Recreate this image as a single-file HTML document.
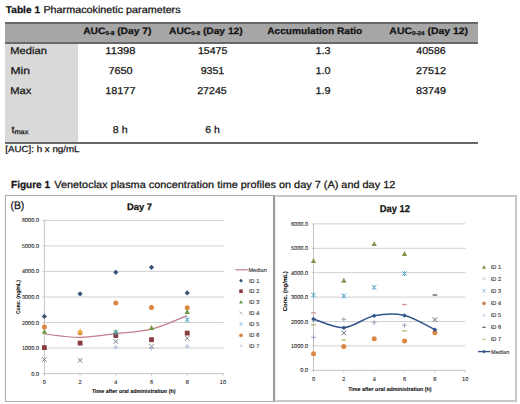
<!DOCTYPE html>
<html><head><meta charset="utf-8">
<style>
html,body{margin:0;padding:0;background:#fff;}
body{width:520px;height:404px;position:relative;overflow:hidden;font-family:"Liberation Sans",sans-serif;}
.hdr{position:absolute;left:5px;width:473px;top:22px;height:22px;background:#a6a6a6;border-top:2px solid #686868;border-bottom:2px solid #686868;box-sizing:border-box;}
.col1{position:absolute;left:5px;width:73px;top:44px;height:98px;background:#d9d9d9;}
.bot{position:absolute;left:5px;width:473px;top:142px;height:2px;background:#686868;}
.box1{position:absolute;left:5px;top:195px;width:270px;height:207px;border:1px solid #ababab;border-right:2px solid #9a9a9a;box-sizing:border-box;}
.box2{position:absolute;left:275px;top:195px;width:242px;height:207px;border:2px solid #c8c8c8;border-left:1px solid #f2f2f2;box-sizing:border-box;}
svg{position:absolute;left:0;top:0;}
</style></head><body>
<div class="hdr"></div>
<div class="col1"></div>
<div class="bot"></div>
<div class="box1"></div>
<div class="box2"></div>
<svg width="520" height="404" viewBox="0 0 520 404" font-family="Liberation Sans, sans-serif" text-rendering="geometricPrecision">
<g id="txt" fill="#141414" stroke="#141414" stroke-width="0.25">
<text id="Table1" x="5.84" y="12.9" font-size="9.8" font-weight="bold" textLength="34.19" lengthAdjust="spacingAndGlyphs">Table 1</text>
<text id="Pharm" x="43.41" y="12.9" font-size="10.0" textLength="137.20" lengthAdjust="spacingAndGlyphs">Pharmacokinetic parameters</text>
<text id="H1" x="83.18" y="33.7" font-size="9.3" font-weight="bold" textLength="68.24" lengthAdjust="spacingAndGlyphs">AUC<tspan font-size="5.6" dy="0.9">0-8</tspan><tspan dy="-0.9"> (Day 7)</tspan></text>
<text id="H2" x="169.02" y="33.7" font-size="9.3" font-weight="bold" textLength="73.67" lengthAdjust="spacingAndGlyphs">AUC<tspan font-size="5.6" dy="0.9">0-8</tspan><tspan dy="-0.9"> (Day 12)</tspan></text>
<text id="H3" x="267.32" y="33.7" font-size="9.3" font-weight="bold" textLength="94.95" lengthAdjust="spacingAndGlyphs">Accumulation Ratio</text>
<text id="H4" x="389.35" y="33.7" font-size="9.3" font-weight="bold" textLength="78.76" lengthAdjust="spacingAndGlyphs">AUC<tspan font-size="5.6" dy="0.9">0-24</tspan><tspan dy="-0.9"> (Day 12)</tspan></text>
<text id="Median" x="10.25" y="53.8" font-size="10.0" textLength="36.67" lengthAdjust="spacingAndGlyphs">Median</text>
<text id="Min" x="10.40" y="73.8" font-size="10.0" textLength="19.53" lengthAdjust="spacingAndGlyphs">Min</text>
<text id="Max" x="10.24" y="93.9" font-size="10.0" textLength="21.18" lengthAdjust="spacingAndGlyphs">Max</text>
<text id="tmax" x="11.47" y="133.0" font-size="10.0" textLength="16.84" lengthAdjust="spacingAndGlyphs">t<tspan font-size="6.6" dy="0.7">max</tspan></text>
<text id="n11" x="105.31" y="53.5" font-size="10.0" textLength="30.21" lengthAdjust="spacingAndGlyphs">11398</text>
<text id="n12" x="197.94" y="53.5" font-size="10.0" textLength="29.33" lengthAdjust="spacingAndGlyphs">15475</text>
<text id="n13" x="315.42" y="53.5" font-size="10.0" textLength="15.06" lengthAdjust="spacingAndGlyphs">1.3</text>
<text id="n14" x="416.34" y="53.5" font-size="10.0" textLength="29.29" lengthAdjust="spacingAndGlyphs">40586</text>
<text id="n21" x="108.56" y="73.7" font-size="10.0" textLength="24.09" lengthAdjust="spacingAndGlyphs">7650</text>
<text id="n22" x="200.70" y="73.7" font-size="10.0" textLength="23.57" lengthAdjust="spacingAndGlyphs">9351</text>
<text id="n23" x="315.42" y="73.7" font-size="10.0" textLength="15.06" lengthAdjust="spacingAndGlyphs">1.0</text>
<text id="n24" x="416.06" y="73.7" font-size="10.0" textLength="29.83" lengthAdjust="spacingAndGlyphs">27512</text>
<text id="n31" x="105.28" y="93.8" font-size="10.0" textLength="30.16" lengthAdjust="spacingAndGlyphs">18177</text>
<text id="n32" x="197.20" y="93.8" font-size="10.0" textLength="29.57" lengthAdjust="spacingAndGlyphs">27245</text>
<text id="n33" x="315.42" y="93.8" font-size="10.0" textLength="15.05" lengthAdjust="spacingAndGlyphs">1.9</text>
<text id="n34" x="416.06" y="93.8" font-size="10.0" textLength="29.93" lengthAdjust="spacingAndGlyphs">83749</text>
<text id="t1" x="112.85" y="132.8" font-size="10.0" textLength="14.79" lengthAdjust="spacingAndGlyphs">8 h</text>
<text id="t2" x="205.26" y="132.8" font-size="10.0" textLength="14.46" lengthAdjust="spacingAndGlyphs">6 h</text>
<text id="note" x="5.24" y="152.2" font-size="8.9" textLength="74.26" lengthAdjust="spacingAndGlyphs">[AUC]: h x ng/mL</text>
<text id="Fig1" x="11.06" y="188.0" font-size="10.2" font-weight="bold" textLength="38.93" lengthAdjust="spacingAndGlyphs">Figure 1</text>
<text id="Venet" x="54.25" y="188.0" font-size="10.2" textLength="341.00" lengthAdjust="spacingAndGlyphs">Venetoclax plasma concentration time profiles on day 7 (A) and day 12</text>
<text id="B" x="10.51" y="209.2" font-size="11.0" textLength="13.81" lengthAdjust="spacingAndGlyphs">(B)</text>
<text id="Day7" x="126.94" y="210.3" font-size="9.4" font-weight="bold" textLength="25.04" lengthAdjust="spacingAndGlyphs">Day 7</text>
<text id="Day12" x="379.66" y="212.3" font-size="10.0" font-weight="bold" textLength="30.28" lengthAdjust="spacingAndGlyphs">Day 12</text>
</g>
<g id="chart-left">
<text x="133.7" y="392.8" font-size="5.6" font-weight="bold" text-anchor="middle" fill="#111" stroke="#111" stroke-width="0.1" textLength="83.6" lengthAdjust="spacingAndGlyphs">Time after oral administration (h)</text>
<text transform="translate(19.6 297.1) rotate(-90)" font-size="5.6" font-weight="bold" text-anchor="middle" fill="#111" stroke="#111" stroke-width="0.1" textLength="34" lengthAdjust="spacingAndGlyphs">Conc. (ng/mL)</text>
<line x1="44.4" y1="348.0" x2="223.8" y2="348.0" stroke="#d0d0d0" stroke-width="1"/>
<line x1="44.4" y1="322.5" x2="223.8" y2="322.5" stroke="#d0d0d0" stroke-width="1"/>
<line x1="44.4" y1="297.0" x2="223.8" y2="297.0" stroke="#d0d0d0" stroke-width="1"/>
<line x1="44.4" y1="271.4" x2="223.8" y2="271.4" stroke="#d0d0d0" stroke-width="1"/>
<line x1="44.4" y1="245.9" x2="223.8" y2="245.9" stroke="#d0d0d0" stroke-width="1"/>
<line x1="44.4" y1="220.4" x2="223.8" y2="220.4" stroke="#d0d0d0" stroke-width="1"/>
<line x1="44.4" y1="220.4" x2="44.4" y2="373.6" stroke="#c4c4c4" stroke-width="1"/>
<line x1="44.4" y1="373.6" x2="223.8" y2="373.6" stroke="#c4c4c4" stroke-width="1"/>
<line x1="42.4" y1="373.6" x2="44.4" y2="373.6" stroke="#c4c4c4" stroke-width="1"/>
<line x1="42.4" y1="348.0" x2="44.4" y2="348.0" stroke="#c4c4c4" stroke-width="1"/>
<line x1="42.4" y1="322.5" x2="44.4" y2="322.5" stroke="#c4c4c4" stroke-width="1"/>
<line x1="42.4" y1="297.0" x2="44.4" y2="297.0" stroke="#c4c4c4" stroke-width="1"/>
<line x1="42.4" y1="271.4" x2="44.4" y2="271.4" stroke="#c4c4c4" stroke-width="1"/>
<line x1="42.4" y1="245.9" x2="44.4" y2="245.9" stroke="#c4c4c4" stroke-width="1"/>
<line x1="42.4" y1="220.4" x2="44.4" y2="220.4" stroke="#c4c4c4" stroke-width="1"/>
<line x1="44.4" y1="373.6" x2="44.4" y2="375.6" stroke="#c4c4c4" stroke-width="1"/>
<line x1="80.1" y1="373.6" x2="80.1" y2="375.6" stroke="#c4c4c4" stroke-width="1"/>
<line x1="115.8" y1="373.6" x2="115.8" y2="375.6" stroke="#c4c4c4" stroke-width="1"/>
<line x1="151.5" y1="373.6" x2="151.5" y2="375.6" stroke="#c4c4c4" stroke-width="1"/>
<line x1="187.2" y1="373.6" x2="187.2" y2="375.6" stroke="#c4c4c4" stroke-width="1"/>
<line x1="222.9" y1="373.6" x2="222.9" y2="375.6" stroke="#c4c4c4" stroke-width="1"/>
<g font-size="5.6" fill="#333" stroke="#333" stroke-width="0.12">
<text x="39.0" y="375.6" text-anchor="end">0.0</text>
<text x="39.0" y="350.0" text-anchor="end">1000.0</text>
<text x="39.0" y="324.5" text-anchor="end">2000.0</text>
<text x="39.0" y="299.0" text-anchor="end">3000.0</text>
<text x="39.0" y="273.4" text-anchor="end">4000.0</text>
<text x="39.0" y="247.9" text-anchor="end">5000.0</text>
<text x="39.0" y="222.4" text-anchor="end">6000.0</text>
<text x="44.4" y="383.6" text-anchor="middle">0</text>
<text x="80.1" y="383.6" text-anchor="middle">2</text>
<text x="115.8" y="383.6" text-anchor="middle">4</text>
<text x="151.5" y="383.6" text-anchor="middle">6</text>
<text x="187.2" y="383.6" text-anchor="middle">8</text>
<text x="222.9" y="383.6" text-anchor="middle">10</text>
</g>
<path d="M44.4 334.0 C50.3 334.6 68.2 337.4 80.1 337.3 C92.0 337.2 103.9 335.0 115.8 333.6 C127.7 332.2 139.6 332.2 151.5 329.2 C163.4 326.2 181.2 317.9 187.2 315.6" stroke="#c27c8a" stroke-width="1.2" fill="none"/>
<path d="M44.4 313.8L47.0 316.4L44.4 319.0L41.8 316.4Z" fill="#3b5278"/>
<path d="M80.1 291.2L82.7 293.8L80.1 296.4L77.5 293.8Z" fill="#3b5278"/>
<path d="M115.8 269.7L118.4 272.3L115.8 274.9L113.2 272.3Z" fill="#3b5278"/>
<path d="M151.5 264.7L154.1 267.3L151.5 269.9L148.9 267.3Z" fill="#3b5278"/>
<path d="M187.2 290.3L189.8 292.9L187.2 295.5L184.6 292.9Z" fill="#3b5278"/>
<circle cx="44.4" cy="327.1" r="2.5" fill="#dc8540"/>
<circle cx="80.1" cy="332.8" r="2.5" fill="#dc8540"/>
<circle cx="115.8" cy="302.9" r="2.5" fill="#dc8540"/>
<circle cx="151.5" cy="307.4" r="2.5" fill="#dc8540"/>
<circle cx="187.2" cy="307.7" r="2.5" fill="#dc8540"/>
<path d="M80.1 328.3L82.8 333.2L77.4 333.2Z" fill="#e8b04a"/>
<path d="M44.4 328.9L47.1 333.8L41.7 333.8Z" fill="#6f9a45"/>
<path d="M115.8 329.1L118.5 334.0L113.1 334.0Z" fill="#6f9a45"/>
<path d="M151.5 325.1L154.2 330.0L148.8 330.0Z" fill="#6f9a45"/>
<path d="M187.2 309.0L189.9 313.9L184.5 313.9Z" fill="#6f9a45"/>
<rect x="42.0" y="345.2" width="4.8" height="4.8" fill="#8c3a42"/>
<rect x="77.7" y="340.7" width="4.8" height="4.8" fill="#8c3a42"/>
<rect x="113.4" y="333.1" width="4.8" height="4.8" fill="#8c3a42"/>
<rect x="149.1" y="337.3" width="4.8" height="4.8" fill="#8c3a42"/>
<rect x="184.8" y="330.7" width="4.8" height="4.8" fill="#8c3a42"/>
<path d="M42.1 357.2L46.7 361.8M46.7 357.2L42.1 361.8" stroke="#6a6a7a" stroke-width="0.9" fill="none"/>
<path d="M77.8 358.0L82.4 362.6M82.4 358.0L77.8 362.6" stroke="#6a6a7a" stroke-width="0.9" fill="none"/>
<path d="M113.5 339.2L118.1 343.8M118.1 339.2L113.5 343.8" stroke="#6a6a7a" stroke-width="0.9" fill="none"/>
<path d="M149.2 344.1L153.8 348.7M153.8 344.1L149.2 348.7" stroke="#6a6a7a" stroke-width="0.9" fill="none"/>
<path d="M184.9 336.1L189.5 340.7M189.5 336.1L184.9 340.7" stroke="#6a6a7a" stroke-width="0.9" fill="none"/>
<path d="M113.5 330.2L118.1 334.8M118.1 330.2L113.5 334.8M115.8 330.2L115.8 334.8" stroke="#4bacc6" stroke-width="1" fill="none"/>
<path d="M184.9 317.3L189.5 321.9M189.5 317.3L184.9 321.9M187.2 317.3L187.2 321.9" stroke="#4bacc6" stroke-width="1" fill="none"/>
<path d="M113.4 347.1L118.2 347.1M115.8 344.7L115.8 349.5" stroke="#a9b8d8" stroke-width="0.9" fill="none"/>
<path d="M149.1 348.3L153.9 348.3M151.5 345.9L151.5 350.7" stroke="#a9b8d8" stroke-width="0.9" fill="none"/>
<path d="M184.8 346.3L189.6 346.3M187.2 343.9L187.2 348.7" stroke="#a9b8d8" stroke-width="0.9" fill="none"/>
<line x1="235.4" y1="269.8" x2="247.7" y2="269.8" stroke="#c27c8a" stroke-width="1.2"/>
<path d="M241.0 278.8L242.9 280.7L241.0 282.6L239.1 280.7Z" fill="#3b5278"/>
<rect x="239.2" y="289.4" width="3.6" height="3.6" fill="#8c3a42"/>
<path d="M241.0 299.9L243.0 303.5L239.0 303.5Z" fill="#6f9a45"/>
<path d="M239.3 311.3L242.7 314.7M242.7 311.3L239.3 314.7" stroke="#c8c0d0" stroke-width="0.9" fill="none"/>
<path d="M239.3 322.4L242.7 325.8M242.7 322.4L239.3 325.8M241.0 322.4L241.0 325.8" stroke="#a8d4e4" stroke-width="1" fill="none"/>
<circle cx="241.0" cy="335.3" r="1.9" fill="#dc8540"/>
<path d="M239.2 345.7L242.8 345.7M241.0 343.9L241.0 347.5" stroke="#c4d8ee" stroke-width="0.9" fill="none"/>
<g font-size="5.6" fill="#333" stroke="#333" stroke-width="0.12">
<text x="248.4" y="271.6">Median</text>
<text x="249" y="282.7">ID 1</text>
<text x="249" y="293.2">ID 2</text>
<text x="249" y="303.9">ID 3</text>
<text x="249" y="315.0">ID 4</text>
<text x="249" y="326.1">ID 5</text>
<text x="249" y="337.3">ID 6</text>
<text x="249" y="347.7">ID 7</text>
</g>
</g>
<g id="chart-right">
<text x="389.9" y="390.9" font-size="5.6" font-weight="bold" text-anchor="middle" fill="#111" stroke="#111" stroke-width="0.1" textLength="83.5" lengthAdjust="spacingAndGlyphs">Time after oral administration (h)</text>
<text transform="translate(287.2 291.2) rotate(-90)" font-size="5.8" font-weight="bold" text-anchor="middle" fill="#111" stroke="#111" stroke-width="0.1" textLength="40" lengthAdjust="spacingAndGlyphs">Conc. (ng/mL)</text>
<line x1="313.5" y1="345.9" x2="465.5" y2="345.9" stroke="#d0d0d0" stroke-width="1"/>
<line x1="313.5" y1="321.5" x2="465.5" y2="321.5" stroke="#d0d0d0" stroke-width="1"/>
<line x1="313.5" y1="297.1" x2="465.5" y2="297.1" stroke="#d0d0d0" stroke-width="1"/>
<line x1="313.5" y1="272.7" x2="465.5" y2="272.7" stroke="#d0d0d0" stroke-width="1"/>
<line x1="313.5" y1="248.3" x2="465.5" y2="248.3" stroke="#d0d0d0" stroke-width="1"/>
<line x1="313.5" y1="223.9" x2="465.5" y2="223.9" stroke="#d0d0d0" stroke-width="1"/>
<line x1="313.5" y1="223.9" x2="313.5" y2="370.3" stroke="#c4c4c4" stroke-width="1"/>
<line x1="313.5" y1="370.3" x2="465.5" y2="370.3" stroke="#c4c4c4" stroke-width="1"/>
<line x1="311.5" y1="370.3" x2="313.5" y2="370.3" stroke="#c4c4c4" stroke-width="1"/>
<line x1="311.5" y1="345.9" x2="313.5" y2="345.9" stroke="#c4c4c4" stroke-width="1"/>
<line x1="311.5" y1="321.5" x2="313.5" y2="321.5" stroke="#c4c4c4" stroke-width="1"/>
<line x1="311.5" y1="297.1" x2="313.5" y2="297.1" stroke="#c4c4c4" stroke-width="1"/>
<line x1="311.5" y1="272.7" x2="313.5" y2="272.7" stroke="#c4c4c4" stroke-width="1"/>
<line x1="311.5" y1="248.3" x2="313.5" y2="248.3" stroke="#c4c4c4" stroke-width="1"/>
<line x1="311.5" y1="223.9" x2="313.5" y2="223.9" stroke="#c4c4c4" stroke-width="1"/>
<line x1="313.5" y1="370.3" x2="313.5" y2="372.3" stroke="#c4c4c4" stroke-width="1"/>
<line x1="343.8" y1="370.3" x2="343.8" y2="372.3" stroke="#c4c4c4" stroke-width="1"/>
<line x1="374.2" y1="370.3" x2="374.2" y2="372.3" stroke="#c4c4c4" stroke-width="1"/>
<line x1="404.5" y1="370.3" x2="404.5" y2="372.3" stroke="#c4c4c4" stroke-width="1"/>
<line x1="434.9" y1="370.3" x2="434.9" y2="372.3" stroke="#c4c4c4" stroke-width="1"/>
<line x1="465.2" y1="370.3" x2="465.2" y2="372.3" stroke="#c4c4c4" stroke-width="1"/>
<g font-size="5.6" fill="#333" stroke="#333" stroke-width="0.12">
<text x="308.1" y="372.3" text-anchor="end">0.0</text>
<text x="308.1" y="347.9" text-anchor="end">1000.0</text>
<text x="308.1" y="323.5" text-anchor="end">2000.0</text>
<text x="308.1" y="299.1" text-anchor="end">3000.0</text>
<text x="308.1" y="274.7" text-anchor="end">4000.0</text>
<text x="308.1" y="250.3" text-anchor="end">5000.0</text>
<text x="308.1" y="225.9" text-anchor="end">6000.0</text>
<text x="313.5" y="381.2" text-anchor="middle">0</text>
<text x="343.8" y="381.2" text-anchor="middle">2</text>
<text x="374.2" y="381.2" text-anchor="middle">4</text>
<text x="404.5" y="381.2" text-anchor="middle">6</text>
<text x="434.9" y="381.2" text-anchor="middle">8</text>
<text x="465.2" y="381.2" text-anchor="middle">10</text>
</g>
<path d="M313.5 319.1 C318.6 320.5 333.7 328.2 343.8 327.7 C354.0 327.1 364.1 317.8 374.2 315.8 C384.3 313.8 394.4 313.2 404.5 315.5 C414.6 317.8 429.8 327.3 434.9 329.7" stroke="#34568a" stroke-width="1.6" fill="none"/>
<path d="M313.5 258.0L316.2 262.9L310.8 262.9Z" fill="#8c8f4e"/>
<path d="M343.8 277.8L346.5 282.7L341.1 282.7Z" fill="#8c8f4e"/>
<path d="M374.2 241.2L376.9 246.1L371.5 246.1Z" fill="#8c8f4e"/>
<path d="M404.5 251.1L407.2 256.0L401.8 256.0Z" fill="#8c8f4e"/>
<path d="M311.2 292.7L315.8 297.3M315.8 292.7L311.2 297.3M313.5 292.7L313.5 297.3" stroke="#5fa8c8" stroke-width="1" fill="none"/>
<path d="M341.5 293.7L346.1 298.3M346.1 293.7L341.5 298.3M343.8 293.7L343.8 298.3" stroke="#5fa8c8" stroke-width="1" fill="none"/>
<path d="M371.9 285.1L376.5 289.7M376.5 285.1L371.9 289.7M374.2 285.1L374.2 289.7" stroke="#5fa8c8" stroke-width="1" fill="none"/>
<path d="M402.2 271.3L406.8 275.9M406.8 271.3L402.2 275.9M404.5 271.3L404.5 275.9" stroke="#5fa8c8" stroke-width="1" fill="none"/>
<path d="M341.5 330.6L346.1 335.2M346.1 330.6L341.5 335.2" stroke="#5a5a6a" stroke-width="0.9" fill="none"/>
<path d="M432.6 317.3L437.2 321.9M437.2 317.3L432.6 321.9" stroke="#5a5a6a" stroke-width="0.9" fill="none"/>
<circle cx="313.5" cy="353.7" r="2.5" fill="#dc8540"/>
<circle cx="343.8" cy="346.4" r="2.5" fill="#dc8540"/>
<circle cx="374.2" cy="338.7" r="2.5" fill="#dc8540"/>
<circle cx="404.5" cy="340.9" r="2.5" fill="#dc8540"/>
<circle cx="434.9" cy="332.8" r="2.5" fill="#dc8540"/>
<path d="M311.1 337.3L315.9 337.3M313.5 334.9L313.5 339.7" stroke="#9a9ab8" stroke-width="0.9" fill="none"/>
<path d="M341.4 319.4L346.2 319.4M343.8 317.0L343.8 321.8" stroke="#9a9ab8" stroke-width="0.9" fill="none"/>
<path d="M371.8 322.7L376.6 322.7M374.2 320.3L374.2 325.1" stroke="#9a9ab8" stroke-width="0.9" fill="none"/>
<path d="M402.1 325.3L406.9 325.3M404.5 322.9L404.5 327.7" stroke="#9a9ab8" stroke-width="0.9" fill="none"/>
<path d="M311.2 313.0L315.8 313.0" stroke="#d49090" stroke-width="1.3" fill="none"/>
<path d="M402.2 304.5L406.8 304.5" stroke="#d49090" stroke-width="1.3" fill="none"/>
<path d="M311.2 324.8L315.8 324.8" stroke="#b0b878" stroke-width="1.3" fill="none"/>
<path d="M341.5 339.9L346.1 339.9" stroke="#b0b878" stroke-width="1.3" fill="none"/>
<path d="M402.2 330.9L406.8 330.9" stroke="#b0b878" stroke-width="1.3" fill="none"/>
<path d="M432.6 295.0L437.2 295.0" stroke="#555555" stroke-width="1.3" fill="none"/>
<path d="M313.5 316.8L315.8 319.1L313.5 321.4L311.2 319.1Z" fill="#34568a"/>
<path d="M343.8 325.4L346.2 327.7L343.8 330.0L341.5 327.7Z" fill="#34568a"/>
<path d="M374.2 313.5L376.5 315.8L374.2 318.1L371.8 315.8Z" fill="#34568a"/>
<path d="M404.5 313.2L406.9 315.5L404.5 317.8L402.2 315.5Z" fill="#34568a"/>
<path d="M434.9 327.4L437.2 329.7L434.9 332.0L432.5 329.7Z" fill="#34568a"/>
<path d="M484.0 265.1L486.0 268.7L482.0 268.7Z" fill="#8c8f4e"/>
<path d="M482.3 276.9L485.7 280.3M485.7 276.9L482.3 280.3" stroke="#c8c8c8" stroke-width="0.9" fill="none"/>
<path d="M482.3 289.1L485.7 292.5M485.7 289.1L482.3 292.5M484.0 289.1L484.0 292.5" stroke="#a8d0e4" stroke-width="1" fill="none"/>
<circle cx="484.0" cy="303.3" r="1.9" fill="#c8895a"/>
<path d="M482.2 315.4L485.8 315.4M484.0 313.6L484.0 317.2" stroke="#c8d8ec" stroke-width="0.9" fill="none"/>
<path d="M482.3 327.3L485.7 327.3" stroke="#666666" stroke-width="1.3" fill="none"/>
<path d="M482.3 339.4L485.7 339.4" stroke="#c8c890" stroke-width="1.3" fill="none"/>
<line x1="478" y1="351.6" x2="490.3" y2="351.6" stroke="#34568a" stroke-width="1.4"/>
<path d="M484.0 349.8L485.8 351.6L484.0 353.4L482.2 351.6Z" fill="#34568a"/>
<g font-size="5.6" fill="#333" stroke="#333" stroke-width="0.12">
<text x="490.8" y="269.1">ID 1</text>
<text x="490.8" y="280.6">ID 2</text>
<text x="490.8" y="292.8">ID 3</text>
<text x="490.8" y="305.3">ID 4</text>
<text x="490.8" y="317.4">ID 5</text>
<text x="490.8" y="329.3">ID 6</text>
<text x="490.8" y="341.4">ID 7</text>
<text x="491" y="353.6">Median</text>
</g>
</g>
</svg>
</body></html>
